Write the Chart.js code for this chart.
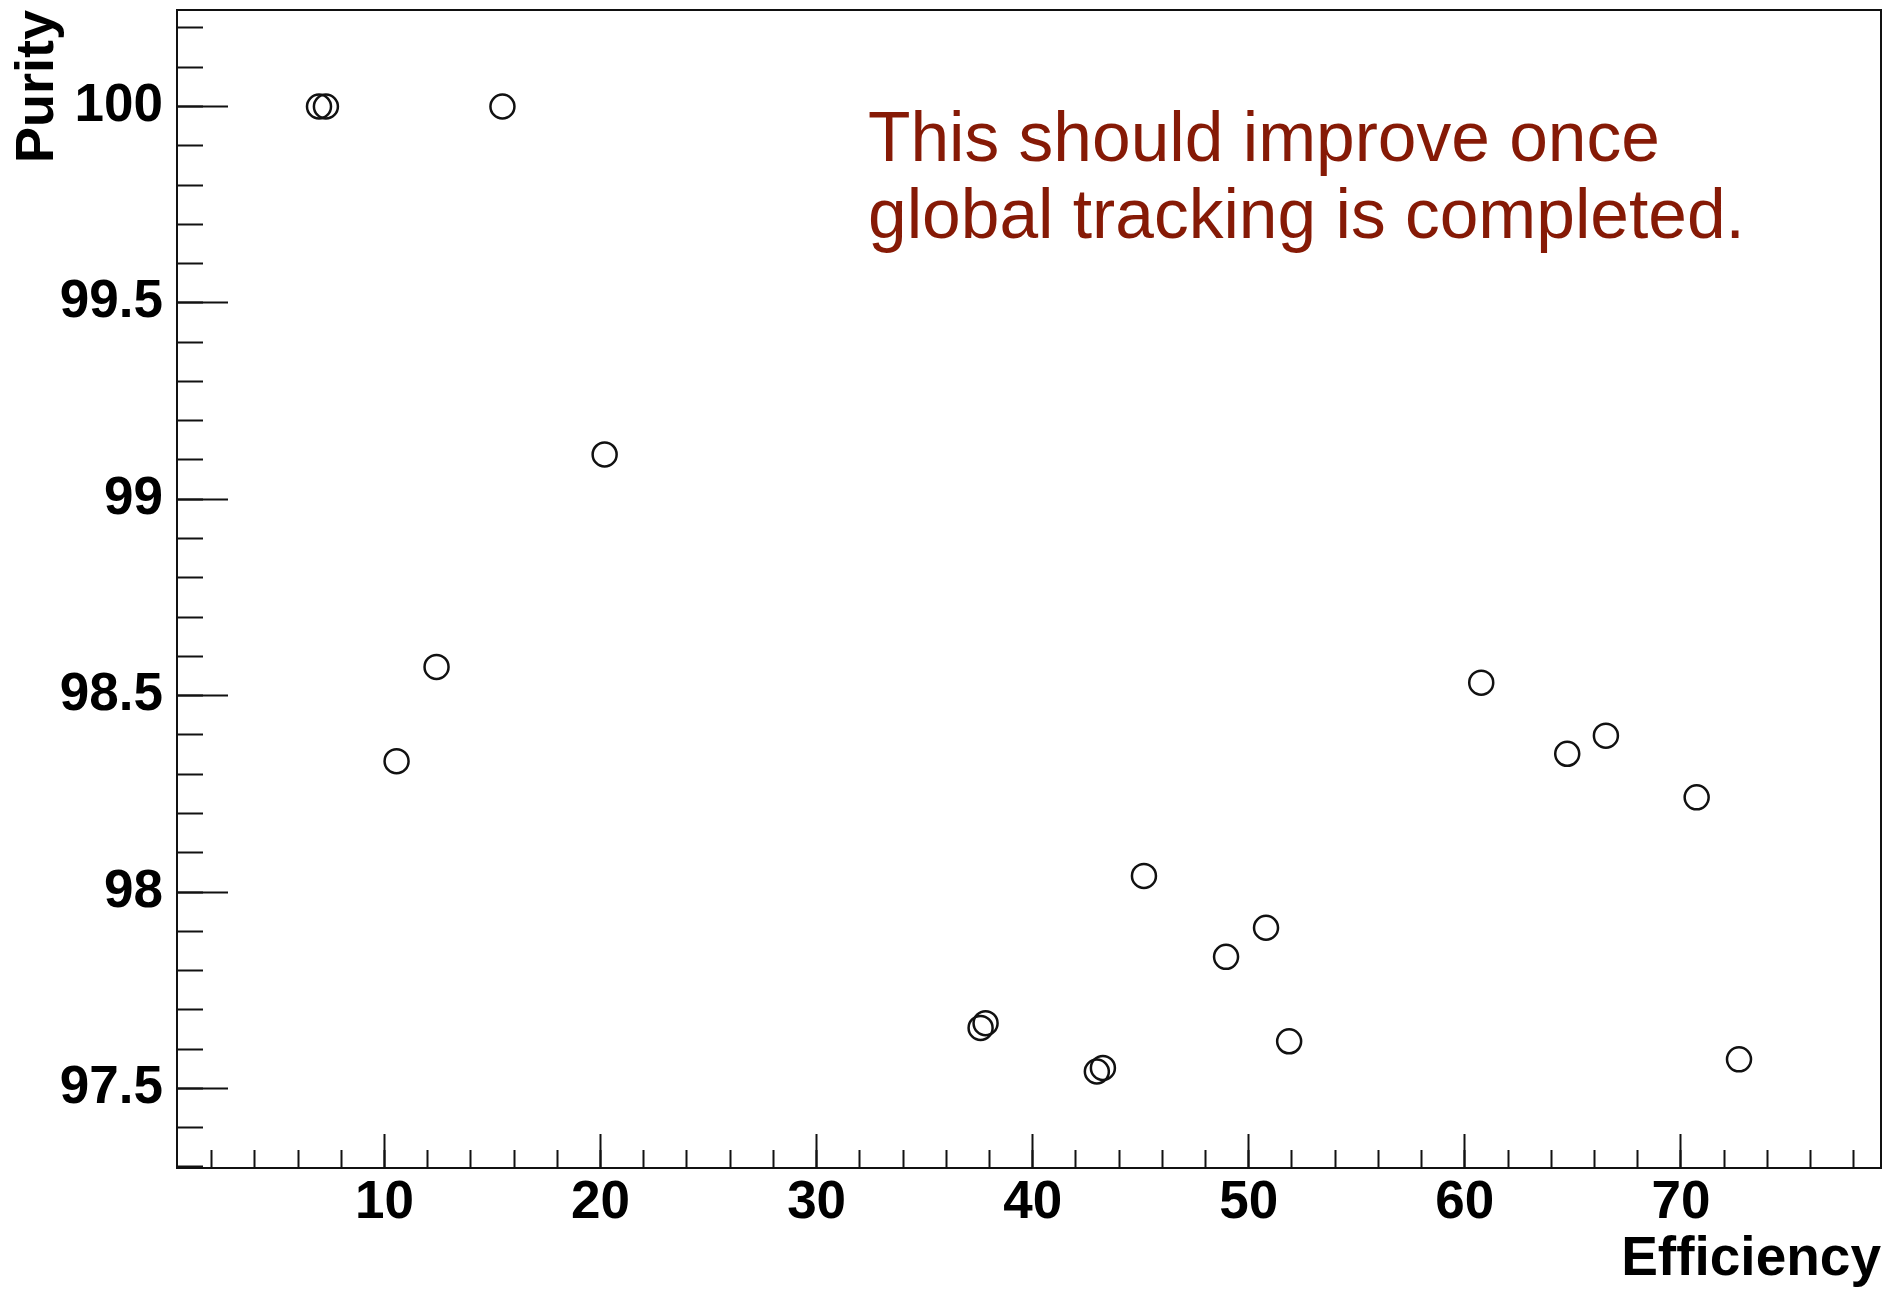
<!DOCTYPE html>
<html>
<head>
<meta charset="utf-8">
<title>Purity vs Efficiency</title>
<script src="https://cdn.jsdelivr.net/npm/chart.js@4.4.1/dist/chart.umd.min.js"></script>
<style>
    html, body { margin: 0; padding: 0; background: #fff; }
    #wrap { width: 1894px; height: 1290px; position: relative; }
</style>
</head>
<body>
<div id="wrap"><canvas id="purityChart"></canvas></div>
<script>
// -------------------------------------------------------------------------- Data

const efficiency = [6.97, 7.29, 15.46, 20.19, 12.41, 10.56, 60.76, 64.74, 66.53, 70.73,
    45.15, 50.80, 48.95, 51.87, 37.59, 37.82, 42.97, 43.25, 72.69]
const purity = [100, 100, 100, 99.114, 98.573, 98.333, 98.533, 98.352, 98.398, 98.241,
    98.041, 97.909, 97.835, 97.620, 97.654, 97.666, 97.543, 97.552, 97.574]

const xTicks = [10, 20, 30, 40, 50, 60, 70]
const yTicks = [97.5, 98, 98.5, 99, 99.5, 100]

const xTitle = 'Efficiency'
const yTitle = 'Purity'
const note = ['This should improve once', 'global tracking is completed.']

// -------------------------------------------------------------------------- Ranges (ROOT style, 10% margin)

function paddedRange(values) {
    const lo = Math.min(...values)
    const hi = Math.max(...values)
    const pad = 0.1 * (hi - lo)
    return [lo - pad, hi + pad]
}
const [xMin, xMax] = paddedRange(efficiency)
const [yMin, yMax] = paddedRange(purity)

const black = '#111'
const tickFont = { family: '"Liberation Sans", Arial, sans-serif', size: 53, weight: 'bold' }

// fixed axis boxes, no extra label padding from chart.js
function fixBox(s, size) {
    if (s.isHorizontal()) s.height = size
    else s.width = size
    s.paddingTop = 0
    s.paddingBottom = 0
    s.paddingLeft = 0
    s.paddingRight = 0
}

// -------------------------------------------------------------------------- Note plugin

const notePlugin = {
    id: 'note',
    afterDraw(chart) {
        const ctx = chart.ctx
        ctx.save()
        ctx.font = '69.5px "Liberation Sans", Arial, sans-serif'
        ctx.fillStyle = '#861a06'
        ctx.textAlign = 'left'
        ctx.textBaseline = 'alphabetic'
        note.forEach((line, i) => ctx.fillText(line, 868, 161 + i * 77))
        ctx.restore()
    }
}

// -------------------------------------------------------------------------- Config

const frameOnly = (axis) => ({
    position: axis,
    min: axis === 'top' ? xMin : yMin,
    max: axis === 'top' ? xMax : yMax,
    ticks: { display: false },
    grid: { drawOnChartArea: false, drawTicks: false },
    border: { display: true, color: black, width: 2 },
    afterFit: s => fixBox(s, 0)
})

const config = {
    type: 'scatter',
    data: {
        datasets: [{
            label: 'Purity vs Efficiency',
            data: efficiency.map((x, i) => ({ x: x, y: purity[i] })),
            xAxisID: 'x',
            yAxisID: 'y',
            pointStyle: 'circle',
            pointRadius: 12,
            pointBorderWidth: 2.5,
            pointBorderColor: black,
            pointBackgroundColor: 'rgba(0,0,0,0)',
            showLine: false
        }]
    },
    options: {
        responsive: true,
        maintainAspectRatio: false,
        animation: false,
        devicePixelRatio: 1,
        layout: { autoPadding: false, padding: { left: 0, top: 10, right: 13, bottom: 0 } },
        plugins: {
            legend: { display: false },
            tooltip: { enabled: false }
        },
        scales: {
            x: {
                type: 'linear',
                position: 'bottom',
                weight: 1,
                min: xMin,
                max: xMax,
                afterBuildTicks: s => { s.ticks = xTicks.map(v => ({ value: v })) },
                afterFit: s => fixBox(s, 122),
                ticks: {
                    autoSkip: false,
                    maxRotation: 0,
                    padding: 38,
                    color: '#000',
                    font: tickFont,
                    callback: v => String(v)
                },
                grid: { drawOnChartArea: false, tickLength: -34, tickWidth: 2, tickColor: black },
                border: { display: true, color: black, width: 2 },
                title: {
                    display: true,
                    text: xTitle,
                    align: 'end',
                    color: '#000',
                    padding: { top: 0, bottom: 3 },
                    font: { family: '"Liberation Sans", Arial, sans-serif', size: 55, weight: 'bold', lineHeight: 1 }
                }
            },
            xMinor: {
                type: 'linear',
                axis: 'x',
                position: 'bottom',
                weight: 0,
                min: xMin,
                max: xMax,
                afterFit: s => fixBox(s, 0),
                ticks: { display: false, stepSize: 2, includeBounds: false },
                grid: { drawOnChartArea: false, tickLength: -18, tickWidth: 2, tickColor: black },
                border: { display: false }
            },
            y: {
                type: 'linear',
                position: 'left',
                weight: 1,
                min: yMin,
                max: yMax,
                afterBuildTicks: s => { s.ticks = yTicks.map(v => ({ value: v })) },
                afterFit: s => fixBox(s, 177),
                ticks: {
                    autoSkip: false,
                    padding: 65,
                    color: '#000',
                    font: tickFont,
                    callback: v => String(v)
                },
                grid: { drawOnChartArea: false, tickLength: -51, tickWidth: 2, tickColor: black },
                border: { display: true, color: black, width: 2 },
                title: {
                    display: true,
                    text: yTitle,
                    align: 'end',
                    color: '#000',
                    padding: { top: 11, bottom: 0 },
                    font: { family: '"Liberation Sans", Arial, sans-serif', size: 54, weight: 'bold', lineHeight: 1 }
                }
            },
            yMinor: {
                type: 'linear',
                axis: 'y',
                position: 'left',
                weight: 0,
                min: yMin,
                max: yMax,
                afterFit: s => fixBox(s, 0),
                ticks: { display: false, stepSize: 0.1, includeBounds: false },
                grid: { drawOnChartArea: false, tickLength: -26, tickWidth: 2, tickColor: black },
                border: { display: false }
            },
            xTop: Object.assign({ type: 'linear', axis: 'x' }, frameOnly('top')),
            yRight: Object.assign({ type: 'linear', axis: 'y' }, frameOnly('right'))
        }
    },
    plugins: [notePlugin]
}

// -------------------------------------------------------------------------- Render

let purityChart = new Chart(document.getElementById('purityChart'), config)
</script>
</body>
</html>
